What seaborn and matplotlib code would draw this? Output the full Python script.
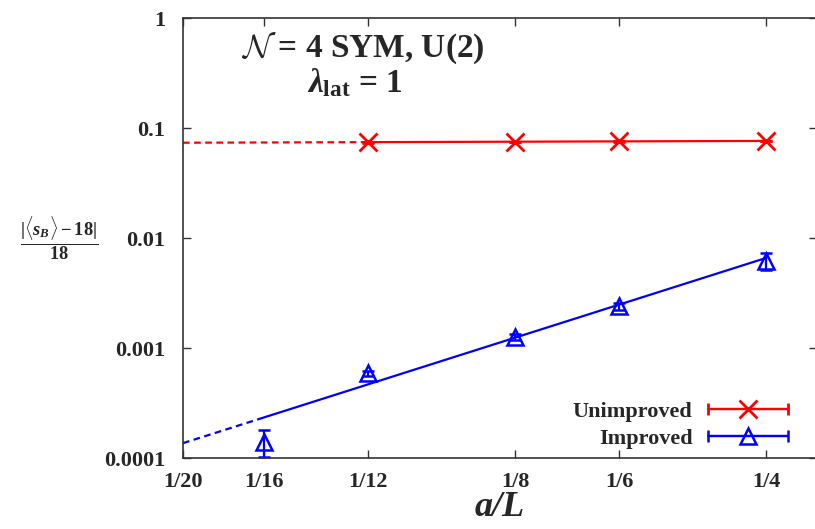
"""N=4 SYM U(2): relative deviation of <s_B> from 18 vs lattice spacing a/L."""

import matplotlib
matplotlib.use("Agg")
import matplotlib.pyplot as plt
import numpy as np
import seaborn as sns
from matplotlib.container import ErrorbarContainer
from matplotlib.legend_handler import HandlerErrorbar
from matplotlib.ticker import FixedLocator, NullLocator

# data
x_ticks = [1 / 20, 1 / 16, 1 / 12, 1 / 8, 1 / 6, 1 / 4]
x_tick_labels = ["1/20", "1/16", "1/12", "1/8", "1/6", "1/4"]
y_ticks = [1e-4, 1e-3, 1e-2, 1e-1, 1]
y_tick_labels = ["0.0001", "0.001", "0.01", "0.1", "1"]

unimp_x = [1 / 12, 1 / 8, 1 / 6, 1 / 4]
unimp_y = [0.0742, 0.0749, 0.0754, 0.0764]
unimp_err = [0.0004, 0.0004, 0.0004, 0.0005]

imp_x = [1 / 16, 1 / 12, 1 / 8, 1 / 6, 1 / 4]
imp_y = [0.00014, 0.00059, 0.00125, 0.00240, 0.00618]
imp_err = [0.000038, 0.00003, 0.00008, 0.00018, 0.0011]

# power-law fits  A * (a/L)^p
unimp_fit = (0.0788, 0.0233)
imp_fit = (0.1864, 2.41)
extrap_from = 1 / 20

RED = "#ff0000"
BLUE = "#0000ff"
SERIF = "Liberation Serif"


def fit_curve(params, lo, hi):
    xs = np.geomspace(lo, hi, 50)
    return xs, params[0] * xs ** params[1]


def main():
    sns.set_style("ticks")
    plt.rcParams["font.family"] = [SERIF, "DejaVu Serif"]
    plt.rcParams["font.weight"] = "bold"
    plt.rcParams["mathtext.fontset"] = "custom"
    plt.rcParams["mathtext.rm"] = "Liberation Serif:bold"
    plt.rcParams["mathtext.bf"] = "Liberation Serif:bold"
    plt.rcParams["mathtext.it"] = "Liberation Serif:italic:bold"
    plt.rcParams["mathtext.cal"] = "cmsy10"

    fig = plt.figure(figsize=(8.15, 5.29), dpi=100)
    ax = fig.add_axes([183 / 815, 71 / 529, 634 / 815, 440 / 529])

    # fits: dashed extrapolation + solid over data range
    for (px, fit, col) in [(unimp_x, unimp_fit, RED), (imp_x, imp_fit, BLUE)]:
        xs, ys = fit_curve(fit, extrap_from, min(px))
        sns.lineplot(x=xs, y=ys, ax=ax, color=col, lw=1.6, linestyle=(0, (3, 2)))
        xs, ys = fit_curve(fit, min(px), max(px))
        sns.lineplot(x=xs, y=ys, ax=ax, color=col, lw=1.6)

    ax.errorbar(unimp_x, unimp_y, yerr=unimp_err, fmt="x", color=RED, ms=13,
                mew=2, elinewidth=1.6, capsize=4, capthick=1.6)
    ax.errorbar(imp_x, imp_y, yerr=imp_err, fmt="^", color=BLUE, mfc="none",
                ms=12, mew=1.8, elinewidth=1.6, capsize=4, capthick=1.6)

    # legend proxies with horizontal error bars (gnuplot style)
    h1 = ax.errorbar([np.nan], [np.nan], xerr=[1], fmt="-x", color=RED, ms=13,
                     mew=2, lw=1.6, capsize=4, capthick=1.6)
    h2 = ax.errorbar([np.nan], [np.nan], xerr=[1], fmt="-^", color=BLUE,
                     mfc="none", ms=12, mew=1.8, lw=1.6, capsize=4, capthick=1.6)
    ax.legend([h1, h2], ["Unimproved", "Improved"], loc="lower right",
              bbox_to_anchor=((788 - 183) / 634, (458 - 449) / 440),
              frameon=False, markerfirst=False, borderpad=0, borderaxespad=0,
              prop={"family": SERIF, "weight": "bold", "size": 16},
              handlelength=3.6, handletextpad=0.7, labelspacing=0.3,
              handler_map={ErrorbarContainer: HandlerErrorbar(xerr_size=1.8)})

    ax.set_xscale("log")
    ax.set_yscale("log")
    ax.set_xlim(1 / 20, 0.2875)
    ax.set_ylim(1e-4, 1)
    ax.xaxis.set_major_locator(FixedLocator(x_ticks))
    ax.xaxis.set_minor_locator(NullLocator())
    ax.yaxis.set_major_locator(FixedLocator(y_ticks))
    ax.yaxis.set_minor_locator(NullLocator())
    ax.set_xticklabels(x_tick_labels, fontsize=16, fontweight="bold")
    ax.set_yticklabels(y_tick_labels, fontsize=16, fontweight="bold")
    ax.tick_params(direction="in", length=6, width=1, top=True, right=True,
                   color="#333333")
    ax.tick_params(axis="y", pad=13)
    ax.tick_params(axis="x", pad=10)
    for s in ax.spines.values():
        s.set_linewidth(1.2)
        s.set_color("#333333")

    ax.set_xlabel("a/L", fontsize=26, fontweight="bold", fontstyle="italic",
                  labelpad=-1)
    fig.text(59 / 815, 1 - 238 / 529,
             r"$\frac{|\langle \mathit{s_B}\rangle - 18|}{18}$",
             fontsize=19, ha="center", va="center")

    ax.text(0.283, 0.932, r"$\mathcal{N}$ = 4 SYM, U(2)", transform=ax.transAxes,
            fontsize=24, fontweight="bold", ha="center", va="center")
    ax.text(0.27, 0.853, r"$\lambda_{\mathrm{lat}}$ = 1", transform=ax.transAxes,
            fontsize=24, fontweight="bold", ha="center", va="center")

    fig.savefig("out.png", dpi=100)


if __name__ == "__main__":
    main()
